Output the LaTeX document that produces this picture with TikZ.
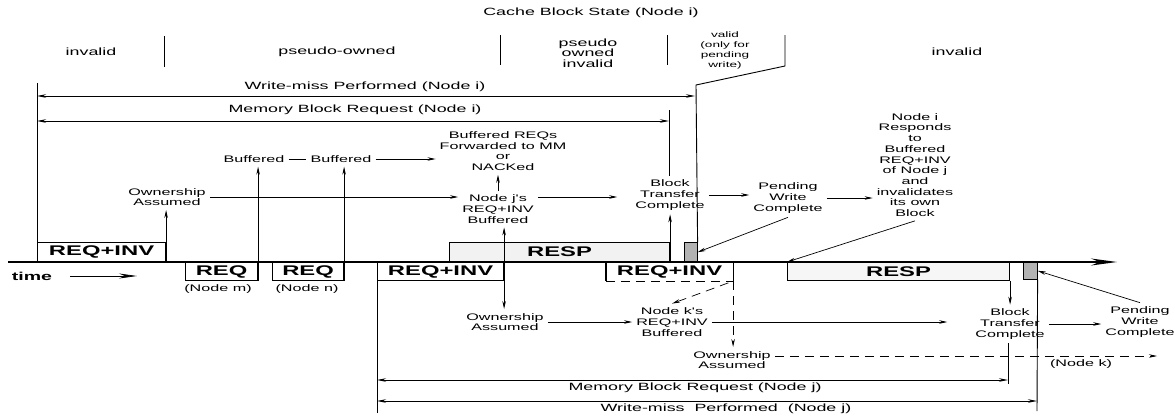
\documentclass[tikz,border=0pt]{standalone}
\usepackage{fontspec}
\newfontfamily\diagfont[FakeStretch=1.7]{Liberation Sans}
\usetikzlibrary{arrows.meta, positioning}

\newcommand{\evtfont}{\diagfont\fontsize{9.5}{10.7}\selectfont}
\newcommand{\headfont}{\diagfont\fontsize{10.5}{10.5}\selectfont}
\newcommand{\smallheadfont}{\diagfont\fontsize{8}{10}\selectfont}
\newcommand{\msgfont}{\diagfont\bfseries\fontsize{14}{14}\selectfont}

\tikzset{
  evt/.style={font=\evtfont, align=center, inner sep=4pt},
  state/.style={font=\headfont, align=center, inner sep=1pt},
  msg/.style={draw, line width=1.1pt, font=\msgfont, inner sep=0pt, minimum height=18pt},
  pend/.style={draw, line width=0.6pt, fill=gray!60, inner sep=0pt},
  arr/.style={-{Stealth[length=8pt, width=3.5pt]}, line width=0.7pt},
  darr/.style={{Stealth[length=8pt, width=3.5pt]}-{Stealth[length=8pt, width=3.5pt]}, line width=0.7pt},
  span/.style={{Stealth[length=9pt, width=3.5pt]}-{Stealth[length=9pt, width=3.5pt]}, line width=0.7pt},
  tick/.style={line width=0.9pt},
  kdash/.style={dash pattern=on 9pt off 6pt}
}

\begin{document}
\begin{tikzpicture}[x=1pt, y=-1pt]
  \useasboundingbox (0,0) rectangle (1175,418);

  % Cache block state of node i
  \node[state] (title) at (591,13) {Cache Block State (Node i)};
  \node[state] (st1) at (91,52) {invalid};
  \node[state] (st2) at (337,52) {pseudo-owned};
  \node[state] (st3) at (588,53) {pseudo\\owned\\invalid};
  \node[state, font=\smallheadfont] (st4) at (725,50) {valid\\(only for\\pending\\write)};
  \node[state] (st5) at (957,52) {invalid};
  \draw[tick] (164,36) -- (164,67);
  \draw[tick] (500,35) -- (500,65);
  \draw[tick] (667,35) -- (667,65);

  % time axis
  \coordinate (t0) at (8,262);
  \coordinate (t1) at (1117,262);
  \draw[line width=1.4pt, -{Stealth[length=26pt, width=7pt]}] (t0) -- (t1);
  \node[font=\diagfont\bfseries\fontsize{11.5}{12}\selectfont, inner sep=1pt] (timelbl) at (32,276) {time};
  \coordinate (timeend) at (137,276);
  \draw[line width=0.7pt, -{Stealth[length=18pt, width=5pt]}] ([xshift=17pt]timelbl.east) -- (timeend);

  % messages on the bus
  \node[msg, minimum width=128pt, minimum height=19pt, anchor=south west] (reqinv1) at (37,262) {REQ+INV};
  \node[msg, minimum width=72pt, anchor=north west] (reqm) at (185,262) {REQ};
  \node[msg, minimum width=71pt, anchor=north west] (reqn) at (272,262) {REQ};
  \node[msg, minimum width=126pt, anchor=north west] (reqinv2) at (377,262) {REQ+INV};
  \node[msg, fill=gray!10, minimum width=220pt, minimum height=19pt, anchor=south west] (resp1) at (449,262) {RESP};
  \node[pend, minimum width=13pt, minimum height=19pt, anchor=south west] (sq1) at (684,262) {};
  \node[msg, draw=none, minimum width=126pt, anchor=north west] (reqinv3) at (606,262) {REQ+INV};
  \draw[line width=1.1pt] (reqinv3.north west) -- (reqinv3.south west);
  \draw[line width=1.1pt] (reqinv3.north east) -- (reqinv3.south east);
  \draw[line width=1.1pt, kdash] (reqinv3.south west) -- (reqinv3.south east);
  \node[msg, fill=gray!7, minimum width=222pt, anchor=north west] (resp2) at (787,262) {RESP};
  \node[pend, minimum width=14pt, minimum height=17pt, anchor=north west] (sq2) at (1023,262) {};
  \node[evt, inner sep=1pt] (nodem) at (218,289) {(Node m)};
  \node[evt, inner sep=1pt] (noden) at (307,289) {(Node n)};

  % node i transactions
  \coordinate (lefttop) at (37,83);
  \draw[tick] (reqinv1.north west) -- (lefttop);
  \coordinate (wmiL) at (37,96);
  \coordinate (wmiR) at (695,96);
  \draw[span] (wmiL) -- (wmiR);
  \node[state] (wmilbl) at (365,87) {Write-miss Performed (Node i)};
  \coordinate (mbiL) at (37,121);
  \coordinate (mbiR) at (669,121);
  \draw[span] (mbiL) -- (mbiR);
  \node[state] (mbilbl) at (355,110) {Memory Block Request (Node i)};
  \coordinate (v1) at (785,35);
  \coordinate (v2) at (785,66);
  \coordinate (v3) at (696,85);
  \draw[tick] (v1) -- (v2) -- (v3) -- (sq1.north east);

  % events above the axis
  \node[evt] (own1) at (167,197) {Ownership\\Assumed};
  \node[evt] (buf1) at (254,159) {Buffered};
  \node[evt] (buf2) at (341,159) {Buffered};
  \node[evt] (fwd) at (503,151) {Buffered REQs\\Forwarded to MM\\or\\NACKed};
  \node[evt] (nodej) at (498,209) {Node j's\\REQ+INV\\Buffered};
  \node[evt] (btc1) at (670,195) {Block\\Transfer\\Complete};
  \node[evt] (pwc1) at (788,198) {Pending\\Write\\Complete};
  \node[evt] (respi) at (915,165) {Node i\\Responds\\to\\Buffered\\REQ+INV\\of Node j\\and\\invalidates\\its own\\Block};

  \draw[arr] (reqinv1.south east) -- (reqinv1.south east |- own1.south);
  \draw[arr] (reqm.south east) -- (reqm.south east |- buf1.south);
  \draw[arr] (reqn.south east) -- (reqn.south east |- buf2.south);
  \draw[line width=0.7pt] (buf1.east) -- (buf2.west);
  \draw[arr] (buf2.east) -- (buf2.east -| fwd.west);
  \draw[arr] (nodej.north) -- (nodej.north |- fwd.south);
  \draw[arr] (own1.east) -- (own1.east -| nodej.west);
  \draw[arr, shorten >=14pt] (own1.east -| nodej.east) -- (own1.east -| btc1.west);
  \draw[tick] (mbiR) ++(0,-11) -- (mbiR |- btc1.north);
  \draw[arr] (resp1.south east) -- (resp1.south east |- btc1.south);
  \draw[arr] (btc1.east) -- (btc1.east -| pwc1.west);
  \draw[arr] (pwc1.south) -- (sq1.east);
  \draw[arr] (pwc1.east) -- (pwc1.east -| respi.west);
  \draw[arr] (respi.south) -- (resp2.north west);

  % events below the axis
  \node[evt] (own2) at (505,322) {Ownership\\Assumed};
  \node[evt] (nodek) at (672,322) {Node k's\\REQ+INV\\Buffered};
  \node[evt] (own3) at (732,360) {Ownership\\Assumed};
  \node[evt] (btc2) at (1010,324) {Block\\Transfer\\Complete};
  \node[evt] (pwc2) at (1140,322) {Pending\\Write\\Complete};
  \node[evt, inner sep=1pt] (nodektag) at (1081,364) {(Node k)};

  \draw[darr] (nodej.south -| reqinv2.east) -- (own2.north -| reqinv2.east);
  \draw[arr] (own2.east) -- (nodek.west);
  \draw[arr, shorten >=24pt] (nodek.east) -- (nodek.east -| btc2.west);
  \draw[arr, kdash] (reqinv3.south east) -- (own3.north -| reqinv3.south east);
  \draw[arr, kdash, shorten <=5pt] (reqinv3.south east) -- (nodek.north);
  \coordinate (kend) at (1157,356);
  \draw[arr, kdash] (own3.east |- kend) -- (kend);
  \draw[arr] (resp2.south east) -- (resp2.south east |- btc2.north);
  \draw[arr] (btc2.east) -- (btc2.east -| pwc2.west);
  \draw[arr] (pwc2.north) -- (sq2.east);

  % node j transactions
  \coordinate (leftbot) at (377,413);
  \draw[tick] (reqinv2.south west) -- (leftbot);
  \coordinate (mbjL) at (377,380);
  \coordinate (mbjR) at (1008,380);
  \draw[span] (mbjL) -- (mbjR);
  \node[state] (mbjlbl) at (695,388) {Memory Block Request (Node j)};
  \draw[tick] (btc2.south -| mbjR) -- ([yshift=-4pt]mbjR);
  \coordinate (wmjL) at (377,401);
  \coordinate (wmjR) at (1037,401);
  \draw[span] (wmjL) -- (wmjR);
  \node[state] (wmjlbl) at (726,409) {Write-miss\ \ Performed\ \ (Node j)};
  \draw[tick] (sq2.south east) -- ([yshift=-10pt]wmjR);
\end{tikzpicture}
\end{document}
